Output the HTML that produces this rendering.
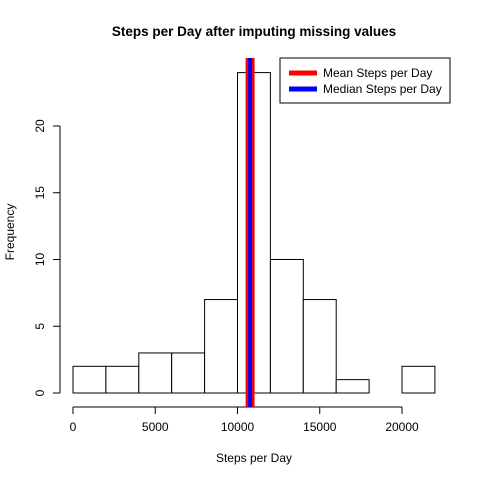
<!DOCTYPE html>
<html><head><meta charset="utf-8"><style>body{margin:0;background:#fff}svg{display:block;font-family:"Liberation Sans",sans-serif}</style></head>
<body>
<svg id="c" width="480" height="480">
<rect width="480" height="480" fill="#fff"/>
<text x="254" y="36" text-anchor="middle" font-size="13.5" font-weight="bold">Steps per Day after imputing missing values</text>
<text x="254" y="462" text-anchor="middle" font-size="12">Steps per Day</text>
<text transform="translate(14,232) rotate(-90)" text-anchor="middle" font-size="12">Frequency</text>
<g id="bars"></g><g id="xaxis"></g><g id="yaxis"></g><g id="vlines"></g>
<g>
<rect x="280" y="58" width="170" height="45" fill="#fff" stroke="#000"/>
<line x1="289" y1="73" x2="317" y2="73" stroke="red" stroke-width="5"/>
<text x="323" y="77" font-size="12">Mean Steps per Day</text>
<line x1="289" y1="89" x2="317" y2="89" stroke="blue" stroke-width="5"/>
<text x="323" y="93" font-size="12">Median Steps per Day</text>
</g>
</svg>
<script>
const breaks=[0,2000,4000,6000,8000,10000,12000,14000,16000,18000,20000,22000];
const counts=[2,2,3,3,7,24,10,7,1,0,2];
const xTicks=[0,5000,10000,15000,20000];
const yTicks=[0,5,10,15,20];
const meanSteps=10766;
const medianSteps=10766;
const NS="http://www.w3.org/2000/svg";
const X=v=>73+v*(402-73)/20000;
const Y=v=>393-v*(393-126)/20;
function mk(t,a,p){const e=document.createElementNS(NS,t);for(const k in a)e.setAttribute(k,a[k]);p.appendChild(e);return e;}
const bars=document.getElementById('bars');
counts.forEach((c,i)=>{const r=mk('rect',{x:X(breaks[i]),y:Y(c),width:X(breaks[i+1])-X(breaks[i]),height:Y(0)-Y(c),fill:'#fff',stroke:'#000'},bars);

});
const xa=document.getElementById('xaxis');
mk('line',{x1:X(xTicks[0]),y1:407,x2:X(xTicks[xTicks.length-1]),y2:407,stroke:'#000'},xa);
xTicks.forEach(t=>{mk('line',{x1:X(t),y1:407,x2:X(t),y2:414,stroke:'#000'},xa);
const l=mk('text',{x:X(t),y:431,'text-anchor':'middle','font-size':12},xa);l.textContent=t;

});
const ya=document.getElementById('yaxis');
mk('line',{x1:60,y1:Y(yTicks[0]),x2:60,y2:Y(yTicks[yTicks.length-1]),stroke:'#000'},ya);
yTicks.forEach(t=>{mk('line',{x1:53,y1:Y(t),x2:60,y2:Y(t),stroke:'#000'},ya);
const l=mk('text',{transform:`translate(44,${Y(t)}) rotate(-90)`,'text-anchor':'middle','font-size':12},ya);l.textContent=t;

});
const vl=document.getElementById('vlines');
const m=mk('line',{x1:X(meanSteps),y1:58,x2:X(meanSteps),y2:407,stroke:'red','stroke-width':9},vl);


const md=mk('line',{x1:X(medianSteps),y1:58,x2:X(medianSteps),y2:407,stroke:'blue','stroke-width':4},vl);


</script>
</body></html>
